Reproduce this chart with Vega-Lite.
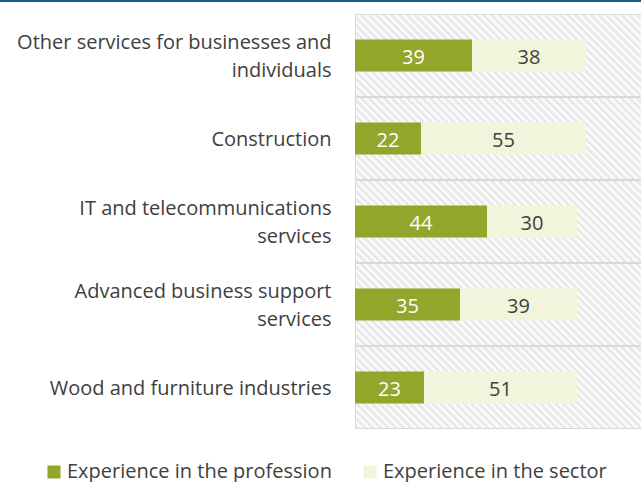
{
  "$schema": "https://vega.github.io/schema/vega-lite/v6.json",
  "padding": 0,
  "background": "white",
  "spacing": 12,
  "align": "none",
  "config": {"view": {"stroke": null}, "font": "Open Sans"},
  "vconcat": [
    {
      "width": 641,
      "height": 2,
      "data": {"values": [{}]},
      "mark": {"type": "rect", "color": "#1b5a84"},
      "encoding": {}
    },
    {
      "spacing": 0,
      "hconcat": [
        {
          "width": 16,
          "height": 415,
          "data": {"values": [{}]},
          "mark": {"type": "rect", "opacity": 0},
          "encoding": {}
        },
        {
          "width": 287,
          "height": 415,
          "data": {
            "values": [
              {"sector": "Other services for businesses and individuals", "type": "Experience in the profession", "value": 39},
              {"sector": "Other services for businesses and individuals", "type": "Experience in the sector", "value": 38},
              {"sector": "Construction", "type": "Experience in the profession", "value": 22},
              {"sector": "Construction", "type": "Experience in the sector", "value": 55},
              {"sector": "IT and telecommunications services", "type": "Experience in the profession", "value": 44},
              {"sector": "IT and telecommunications services", "type": "Experience in the sector", "value": 30},
              {"sector": "Advanced business support services", "type": "Experience in the profession", "value": 35},
              {"sector": "Advanced business support services", "type": "Experience in the sector", "value": 39},
              {"sector": "Wood and furniture industries", "type": "Experience in the profession", "value": 23},
              {"sector": "Wood and furniture industries", "type": "Experience in the sector", "value": 51}
            ]
          },
          "encoding": {
            "y": {
              "field": "sector",
              "type": "nominal",
              "sort": null,
              "title": null,
              "scale": {"paddingInner": 0, "paddingOuter": 0},
              "axis": {
                "domain": false,
                "ticks": false,
                "labelPadding": 24,
                "labelFontSize": 20,
                "labelColor": "#404040",
                "labelLimit": 0,
                "labelLineHeight": 28,
                "labelOffset": {"condition": {"test": "datum.value == 'Construction' || datum.value == 'Wood and furniture industries'", "value": 1}, "value": -13},
                "labelExpr": "datum.label == 'Other services for businesses and individuals' ? ['Other services for businesses and', 'individuals'] : datum.label == 'IT and telecommunications services' ? ['IT and telecommunications', 'services'] : datum.label == 'Advanced business support services' ? ['Advanced business support', 'services'] : datum.label"
              }
            }
          },
          "layer": [
            {
              "transform": [{"filter": "datum.type == 'Experience in the profession'"}],
              "mark": {
                "type": "rect",
                "clip": true,
                "stroke": "#d9d9d9",
                "strokeWidth": 2,
                "fill": {
                  "gradient": "linear",
                  "x1": 0, "y1": 1, "x2": 1.1859, "y2": 0.6719,
                  "stops": [
                    {"offset": 0.00, "color": "#ffffff"}, {"offset": 0.01, "color": "#e4e4e4"},
                    {"offset": 0.02, "color": "#ffffff"}, {"offset": 0.03, "color": "#e4e4e4"},
                    {"offset": 0.04, "color": "#ffffff"}, {"offset": 0.05, "color": "#e4e4e4"},
                    {"offset": 0.06, "color": "#ffffff"}, {"offset": 0.07, "color": "#e4e4e4"},
                    {"offset": 0.08, "color": "#ffffff"}, {"offset": 0.09, "color": "#e4e4e4"},
                    {"offset": 0.10, "color": "#ffffff"}, {"offset": 0.11, "color": "#e4e4e4"},
                    {"offset": 0.12, "color": "#ffffff"}, {"offset": 0.13, "color": "#e4e4e4"},
                    {"offset": 0.14, "color": "#ffffff"}, {"offset": 0.15, "color": "#e4e4e4"},
                    {"offset": 0.16, "color": "#ffffff"}, {"offset": 0.17, "color": "#e4e4e4"},
                    {"offset": 0.18, "color": "#ffffff"}, {"offset": 0.19, "color": "#e4e4e4"},
                    {"offset": 0.20, "color": "#ffffff"}, {"offset": 0.21, "color": "#e4e4e4"},
                    {"offset": 0.22, "color": "#ffffff"}, {"offset": 0.23, "color": "#e4e4e4"},
                    {"offset": 0.24, "color": "#ffffff"}, {"offset": 0.25, "color": "#e4e4e4"},
                    {"offset": 0.26, "color": "#ffffff"}, {"offset": 0.27, "color": "#e4e4e4"},
                    {"offset": 0.28, "color": "#ffffff"}, {"offset": 0.29, "color": "#e4e4e4"},
                    {"offset": 0.30, "color": "#ffffff"}, {"offset": 0.31, "color": "#e4e4e4"},
                    {"offset": 0.32, "color": "#ffffff"}, {"offset": 0.33, "color": "#e4e4e4"},
                    {"offset": 0.34, "color": "#ffffff"}, {"offset": 0.35, "color": "#e4e4e4"},
                    {"offset": 0.36, "color": "#ffffff"}, {"offset": 0.37, "color": "#e4e4e4"},
                    {"offset": 0.38, "color": "#ffffff"}, {"offset": 0.39, "color": "#e4e4e4"},
                    {"offset": 0.40, "color": "#ffffff"}, {"offset": 0.41, "color": "#e4e4e4"},
                    {"offset": 0.42, "color": "#ffffff"}, {"offset": 0.43, "color": "#e4e4e4"},
                    {"offset": 0.44, "color": "#ffffff"}, {"offset": 0.45, "color": "#e4e4e4"},
                    {"offset": 0.46, "color": "#ffffff"}, {"offset": 0.47, "color": "#e4e4e4"},
                    {"offset": 0.48, "color": "#ffffff"}, {"offset": 0.49, "color": "#e4e4e4"},
                    {"offset": 0.50, "color": "#ffffff"}, {"offset": 0.51, "color": "#e4e4e4"},
                    {"offset": 0.52, "color": "#ffffff"}, {"offset": 0.53, "color": "#e4e4e4"},
                    {"offset": 0.54, "color": "#ffffff"}, {"offset": 0.55, "color": "#e4e4e4"},
                    {"offset": 0.56, "color": "#ffffff"}, {"offset": 0.57, "color": "#e4e4e4"},
                    {"offset": 0.58, "color": "#ffffff"}, {"offset": 0.59, "color": "#e4e4e4"},
                    {"offset": 0.60, "color": "#ffffff"}, {"offset": 0.61, "color": "#e4e4e4"},
                    {"offset": 0.62, "color": "#ffffff"}, {"offset": 0.63, "color": "#e4e4e4"},
                    {"offset": 0.64, "color": "#ffffff"}, {"offset": 0.65, "color": "#e4e4e4"},
                    {"offset": 0.66, "color": "#ffffff"}, {"offset": 0.67, "color": "#e4e4e4"},
                    {"offset": 0.68, "color": "#ffffff"}, {"offset": 0.69, "color": "#e4e4e4"},
                    {"offset": 0.70, "color": "#ffffff"}, {"offset": 0.71, "color": "#e4e4e4"},
                    {"offset": 0.72, "color": "#ffffff"}, {"offset": 0.73, "color": "#e4e4e4"},
                    {"offset": 0.74, "color": "#ffffff"}, {"offset": 0.75, "color": "#e4e4e4"},
                    {"offset": 0.76, "color": "#ffffff"}, {"offset": 0.77, "color": "#e4e4e4"},
                    {"offset": 0.78, "color": "#ffffff"}, {"offset": 0.79, "color": "#e4e4e4"},
                    {"offset": 0.80, "color": "#ffffff"}, {"offset": 0.81, "color": "#e4e4e4"},
                    {"offset": 0.82, "color": "#ffffff"}, {"offset": 0.83, "color": "#e4e4e4"},
                    {"offset": 0.84, "color": "#ffffff"}, {"offset": 0.85, "color": "#e4e4e4"},
                    {"offset": 0.86, "color": "#ffffff"}, {"offset": 0.87, "color": "#e4e4e4"},
                    {"offset": 0.88, "color": "#ffffff"}, {"offset": 0.89, "color": "#e4e4e4"},
                    {"offset": 0.90, "color": "#ffffff"}, {"offset": 0.91, "color": "#e4e4e4"},
                    {"offset": 0.92, "color": "#ffffff"}, {"offset": 0.93, "color": "#e4e4e4"},
                    {"offset": 0.94, "color": "#ffffff"}, {"offset": 0.95, "color": "#e4e4e4"},
                    {"offset": 0.96, "color": "#ffffff"}, {"offset": 0.97, "color": "#e4e4e4"},
                    {"offset": 0.98, "color": "#ffffff"}, {"offset": 0.99, "color": "#e4e4e4"},
                    {"offset": 1.00, "color": "#ffffff"}
                  ]
                }
              },
              "encoding": {
                "x": {"datum": 0, "type": "quantitative", "scale": {"domain": [0, 95.67], "nice": false, "zero": true}, "axis": null},
                "x2": {"datum": 100}
              }
            },
            {
              "mark": {"type": "bar", "height": {"band": 0.386}},
              "encoding": {
                "x": {"field": "value", "type": "quantitative", "stack": "zero", "axis": null},
                "order": {"field": "type", "sort": "ascending"},
                "color": {
                  "field": "type",
                  "type": "nominal",
                  "scale": {"domain": ["Experience in the profession", "Experience in the sector"], "range": ["#94a52b", "#f1f5dc"]},
                  "legend": {
                    "title": null,
                    "orient": "none",
                    "legendX": 44,
                    "legendY": 462,
                    "direction": "horizontal",
                    "symbolType": "square",
                    "symbolSize": 169,
                    "symbolStrokeWidth": 0,
                    "symbolOpacity": 1,
                    "labelFontSize": 20,
                    "labelColor": "#404040",
                    "labelLimit": 0,
                    "labelOffset": 3,
                    "columnPadding": 28
                  }
                }
              }
            },
            {
              "mark": {"type": "text", "fontSize": 20, "align": "center", "baseline": "middle", "dy": 2},
              "encoding": {
                "x": {"field": "value", "type": "quantitative", "stack": "zero", "bandPosition": 0.5},
                "order": {"field": "type", "sort": "ascending"},
                "detail": {"field": "type"},
                "text": {"field": "value", "type": "quantitative"},
                "color": {"condition": {"test": "datum.type == 'Experience in the profession'", "value": "#ffffff"}, "value": "#404040"}
              }
            }
          ]
        }
      ]
    }
  ]
}
